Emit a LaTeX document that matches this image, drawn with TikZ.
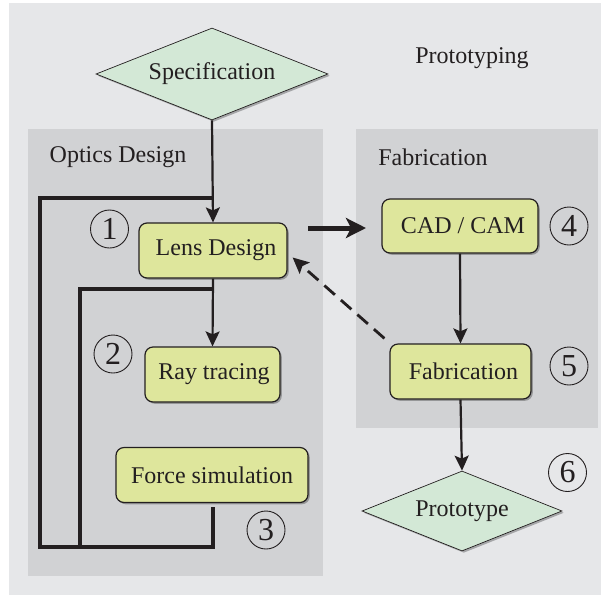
\documentclass[tikz,border=0pt]{standalone}
\usepackage{fontspec}
\setmainfont{Liberation Serif}
\usetikzlibrary{shapes.geometric,shadows,arrows.meta,calc}

\definecolor{outerbg}{HTML}{E6E7E9}
\definecolor{panelbg}{HTML}{D1D2D4}
\definecolor{boxfill}{HTML}{DEE69C}
\definecolor{diafill}{HTML}{D3E8D6}
\definecolor{ink}{HTML}{231F20}

\tikzset{
  txt/.style={font=\fontsize{24}{27}\selectfont, text=ink},
  shade/.style={drop shadow={shadow xshift=1.8pt, shadow yshift=-1.8pt, opacity=0.28, fill=black}},
  stepbox/.style={txt, shape=rectangle, rounded corners=8pt, draw=ink, line width=1.2pt,
    fill=boxfill, shade, inner sep=0pt},
  decision/.style={txt, shape=diamond, draw=ink, line width=0.7pt, fill=diafill, shade,
    inner sep=0pt},
  badge/.style={shape=circle, draw=ink, line width=0.9pt, minimum size=38pt, inner sep=0pt,
    font=\fontsize{32}{33}\selectfont, text=ink},
  flow/.style={draw=ink, line width=2.2pt, -{Stealth[length=15pt, width=14pt, inset=3pt]}},
  loop/.style={draw=ink, line width=3.2pt},
}

\begin{document}
\begin{tikzpicture}[x=1pt, y=-1pt]
  \useasboundingbox (0,0) rectangle (601,595);
  \fill[white] (0,0) rectangle (601,595);
  \fill[outerbg] (9,3) rectangle (601,595);
  \fill[panelbg] (28,129) rectangle (323,576);
  \fill[panelbg] (356,129) rectangle (598,428);

  % titles
  \node[txt] (title) at (472,58) {Prototyping};
  \node[txt] (optics) at (118,157) {Optics Design};
  \node[txt] (fabtitle) at (433,157) {Fabrication};

  % decisions
  \node[decision, minimum width=232pt, minimum height=92pt, aspect=2.52] (spec) at (212,74) {Specification};
  \node[decision, minimum width=200pt, minimum height=80pt, aspect=2.5] (proto) at (462,511) {Prototype};

  % process steps
  \node[stepbox, minimum width=148pt, minimum height=55pt] (lens) at (213,250.5) {\hspace{6pt}Lens Design};
  \node[stepbox, minimum width=135pt, minimum height=55pt] (ray) at (212.5,374.5) {\hspace{3pt}Ray tracing};
  \node[stepbox, minimum width=192pt, minimum height=55pt] (force) at (212,475) {Force simulation};
  \node[stepbox, minimum width=156pt, minimum height=54pt] (cad) at (460,226) {\hspace{6pt}CAD / CAM};
  \node[stepbox, minimum width=141pt, minimum height=55pt] (fab) at (460.5,371.5) {\hspace{6pt}Fabrication};

  % step numbers
  \node[badge] (n1) at (109.5,229) {1};
  \node[badge] (n2) at (113,354) {2};
  \node[badge] (n3) at (266,530) {3};
  \node[badge] (n4) at (569,226) {4};
  \node[badge] (n5) at (569,366) {5};
  \node[badge] (n6) at (567.5,472.5) {6};

  % feedback loops
  \coordinate (fbot) at ($(force.south)+(1,4)$);
  \coordinate (ocorner) at (213,547);
  \coordinate (obl) at (40,547);
  \coordinate (otl) at (40,198);
  \coordinate (otr) at (212,198);
  \coordinate (ibl) at (80,547);
  \coordinate (itl) at (80,289);
  \coordinate (itr) at (213,289);
  \draw[loop] (fbot) -- (ocorner) -- (obl) -- (otl) -- (otr);
  \draw[loop] (ibl) -- (itl) -- (itr);

  % main flow
  \draw[flow] (spec.south) -- (lens.north);
  \draw[flow] (lens.south) -- (ray.north);
  \draw[flow] (cad.south) -- (fab.north);
  \draw[flow] (fab.south) -- (proto.north);

  % hand-over to fabrication
  \coordinate (hs) at (308,228);
  \coordinate (he) at (366,228);
  \draw[draw=ink, line width=5pt, -{Stealth[length=20pt, width=20pt, inset=5pt]}] (hs) -- (he);

  % feedback from fabrication
  \coordinate (ds) at ($(fab.north west)+(-5,-5)$);
  \coordinate (de) at ($(lens.east)+(5,7)$);
  \draw[draw=ink, line width=2.8pt, dash pattern=on 14pt off 8pt,
        -{Stealth[length=16pt, width=15pt, inset=3pt]}] (ds) -- (de);
\end{tikzpicture}
\end{document}
